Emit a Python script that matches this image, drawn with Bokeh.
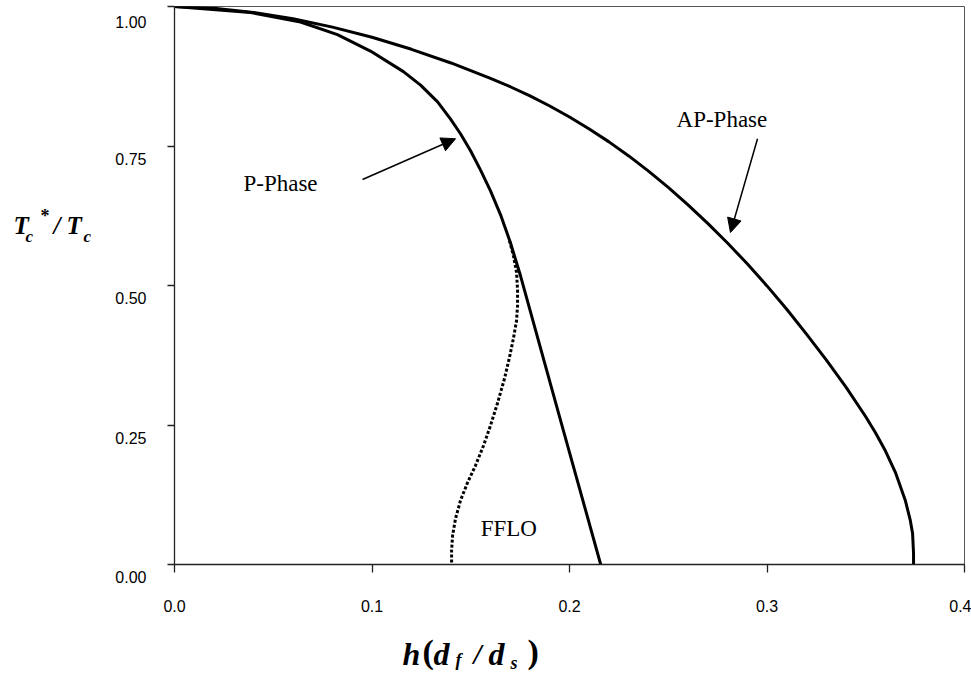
from bokeh.plotting import figure
from bokeh.layouts import row, column
from bokeh.models import Label, Arrow, NormalHead, FixedTicker, NumeralTickFormatter, Range1d
from bokeh.embed import file_html
from bokeh.resources import INLINE

# ---- data ----
ap_x = [0.0, 0.02, 0.04, 0.06, 0.08, 0.10, 0.12, 0.14, 0.16, 0.17, 0.18, 0.19, 0.20,
        0.21, 0.22, 0.23, 0.24, 0.25, 0.26, 0.27, 0.28, 0.29, 0.30, 0.31, 0.32, 0.33,
        0.34, 0.35, 0.355, 0.36, 0.365, 0.37, 0.3725, 0.3737, 0.3742, 0.3742]
ap_y = [1.0, 0.9970, 0.9894, 0.9780, 0.9630, 0.9448, 0.9233, 0.8988, 0.8713, 0.8562,
        0.8397, 0.8217, 0.8020, 0.7806, 0.7574, 0.7322, 0.7050, 0.6758, 0.6446, 0.6114,
        0.5762, 0.5389, 0.4993, 0.4574, 0.4128, 0.3668, 0.3178, 0.2648, 0.2358, 0.2033,
        0.1653, 0.1153, 0.0800, 0.0560, 0.0200, 0.0]

p_x = [0.0, 0.0385, 0.0638, 0.0825, 0.0992, 0.1159, 0.1246, 0.1332, 0.1397, 0.1448,
       0.1499, 0.1549, 0.1600, 0.1651, 0.1701, 0.1752, 0.1954, 0.2158]
p_y = [1.0, 0.9892, 0.9722, 0.9496, 0.9201, 0.8833, 0.8590, 0.8290, 0.7987, 0.7719,
       0.7414, 0.7073, 0.6697, 0.6267, 0.5765, 0.5174, 0.2593, 0.0]

fflo_x = [0.1696, 0.1716, 0.1732, 0.1737, 0.1737, 0.1732, 0.1716, 0.1696, 0.1671, 0.1635,
          0.1600, 0.1565, 0.1524, 0.1484, 0.1448, 0.1423, 0.1408, 0.1403, 0.1403]
fflo_y = [0.5806, 0.5538, 0.5233, 0.4910, 0.4642, 0.4373, 0.4050, 0.3710, 0.3333, 0.2885,
          0.2491, 0.2133, 0.1774, 0.1470, 0.1147, 0.0824, 0.0520, 0.0251, 0.0]

zero_x = [0.3, 0.4]
zero_y = [0.0, 0.0]

x_ticks = [0.0, 0.1, 0.2, 0.3, 0.4]
y_ticks = [0.0, 0.25, 0.5, 0.75, 1.0]
y_tick_labels = ["0.00", "0.25", "0.50", "0.75", "1.00"]

p_arrow = dict(x_start=0.0952, y_start=0.690, x_end=0.1423, y_end=0.763)
ap_arrow = dict(x_start=0.2952, y_start=0.763, x_end=0.2815, y_end=0.595)

SERIF = "Liberation Serif"
SANS = "Liberation Sans"
BI = "bold italic"

# ---------------- main chart ----------------
LEFT_W = 110
p = figure(width=971 - LEFT_W, height=620, output_backend="svg", toolbar_location=None,
           x_range=Range1d(0, 0.4), y_range=Range1d(0, 1.0),
           min_border_left=64, min_border_right=7, min_border_top=6,
           min_border_bottom=56)

p.background_fill_color = "white"
p.border_fill_color = "white"
p.xgrid.visible = False
p.ygrid.visible = False
p.outline_line_color = "#555555"
p.outline_line_width = 1

p.xaxis.ticker = FixedTicker(ticks=x_ticks)
p.yaxis.ticker = FixedTicker(ticks=y_ticks)
p.xaxis.formatter = NumeralTickFormatter(format="0.0")
p.yaxis.formatter = NumeralTickFormatter(format="0.00")
for ax in (p.xaxis[0], p.yaxis[0]):
    ax.axis_line_color = "#222222"
    ax.axis_line_width = 1.3
    ax.major_tick_line_color = "#222222"
    ax.major_tick_line_width = 1.3
    ax.major_tick_in = 0
    ax.minor_tick_line_color = None
    ax.major_label_text_font = SANS
    ax.major_label_text_font_size = "16px"
    ax.major_label_text_color = "black"
p.xaxis.major_tick_out = 8
p.xaxis.major_label_standoff = 27
p.yaxis.major_tick_out = 7
p.yaxis.major_label_standoff = 21
# the reference prints each y label a little below its tick
# (the top one is kept inside the canvas, so it needs one blank line less)
p.yaxis.major_label_overrides = {
    t: ("\n" if t == 1.0 else "\n\n") + s for t, s in zip(y_ticks, y_tick_labels)}
p.yaxis.major_label_text_line_height = 0.79

p.line(ap_x, ap_y, line_color="black", line_width=3)
p.line(p_x, p_y, line_color="black", line_width=3)
p.line(fflo_x, fflo_y, line_color="black", line_width=3, line_dash="3 2")
p.line(zero_x, zero_y, line_color="black", line_width=1.2)

for a in (p_arrow, ap_arrow):
    p.add_layout(Arrow(end=NormalHead(size=14, fill_color="black", line_color="black"),
                       line_color="black", line_width=1.5, **a))


def lab(fig, text, x, y, size, style="normal"):
    fig.add_layout(Label(x=x, y=y, text=text, text_font=SERIF,
                         text_font_size=f"{size}px", text_font_style=style,
                         text_color="black", text_align="left",
                         text_baseline="alphabetic"))


lab(p, "P-Phase", 0.0349, 0.683, 23)
lab(p, "AP-Phase", 0.2542, 0.7975, 23)
lab(p, "FFLO", 0.155, 0.0645, 23)


def text_panel(w, h, y_top):
    # a blank panel whose data units are page pixels (y grows downward)
    f = figure(width=w, height=h, output_backend="svg", toolbar_location=None,
               x_range=Range1d(0, w), y_range=Range1d(y_top + h, y_top),
               x_axis_type=None, y_axis_type=None,
               min_border_left=0, min_border_right=0, min_border_top=0,
               min_border_bottom=0)
    f.outline_line_color = None
    f.background_fill_color = "white"
    f.border_fill_color = "white"
    return f


# ---------------- y-axis title: T_c^* / T_c ----------------
yt = text_panel(LEFT_W, 620, 0)
lab(yt, "T", 13, 243, 25, BI)
lab(yt, "c", 25, 255, 17, BI)
lab(yt, "*", 40, 233, 18, "bold")
lab(yt, "/", 53, 243, 25, BI)
lab(yt, "T", 66, 243, 25, BI)
lab(yt, "c", 83, 255, 17, BI)

# ---------------- x-axis title: h(d_f / d_s) ----------------
xt = text_panel(971, 52, 620)
lab(xt, "h", 402, 653, 32, BI)
lab(xt, "(", 422, 651, 34, "bold")
lab(xt, "d", 433, 653, 32, BI)
lab(xt, "f", 455, 659, 18, BI)
lab(xt, "/", 473, 653, 29, BI)
lab(xt, "d", 488, 653, 32, BI)
lab(xt, "s", 510, 662, 18, BI)
lab(xt, ")", 527, 651, 34, "bold")

layout = column(row(yt, p), xt)
open("out.html", "w").write(file_html(layout, INLINE))
